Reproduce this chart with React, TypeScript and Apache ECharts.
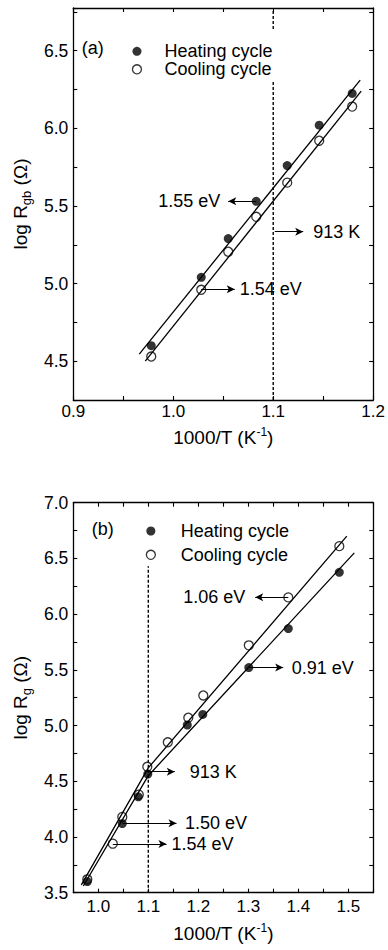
import React, { useEffect, useRef } from 'react';
import * as echarts from 'echarts';

const FONT = '"Liberation Sans", Arial, Helvetica, sans-serif';

// ---------- Panel (a): grain-boundary resistance ----------
const aX = [0.978, 1.028, 1.055, 1.083, 1.114, 1.146, 1.179];
const aHeatY = [4.6, 5.04, 5.29, 5.53, 5.76, 6.02, 6.225];
const aCoolY = [4.53, 4.96, 5.205, 5.43, 5.65, 5.92, 6.14];
const aHeatFitX = [0.966, 1.187];
const aHeatFitY = [4.545, 6.31];
const aCoolFitX = [0.972, 1.188];
const aCoolFitY = [4.5, 6.24];
const aTransitionX = 1.1;
const aDashLowY = [4.25, 6.31];
const aDashHighY = [6.64, 6.775];
const aXTicks = [0.9, 1.2];
const aYTicks = [4.25, 6.775];
const aArrowText = ['1.55 eV', '913 K', '1.54 eV'];
const aArrowFrom = [[1.083, 5.53], [1.1015, 5.334], [1.028, 4.963]];
const aArrowTo = [[1.055, 5.53], [1.13, 5.334], [1.0615, 4.963]];
const aArrowGap = [8, 10, 5];

// ---------- Panel (b): grain resistance ----------
const bHeatX = [0.978, 1.048, 1.08, 1.099, 1.178, 1.209, 1.301, 1.38, 1.482];
const bHeatY = [3.6, 4.12, 4.36, 4.565, 5.005, 5.1, 5.52, 5.87, 6.375];
const bCoolX = [0.978, 1.029, 1.048, 1.081, 1.098, 1.139, 1.18, 1.21, 1.301, 1.38, 1.482];
const bCoolY = [3.62, 3.94, 4.18, 4.38, 4.63, 4.85, 5.07, 5.27, 5.72, 6.15, 6.61];
const bHeatFitX = [0.97, 1.1, 1.512];
const bHeatFitY = [3.56, 4.55, 6.55];
const bCoolFitX = [0.966, 1.1, 1.497];
const bCoolFitY = [3.57, 4.62, 6.7];
const bTransitionX = 1.1;
const bDashY = [3.5, 6.43];
const bXTicks = [0.95, 1.55];
const bYTicks = [3.5, 7.0];
const bArrowText = ['1.06 eV', '0.91 eV', '913 K', '1.50 eV', '1.54 eV'];
const bArrowFrom = [[1.38, 6.151], [1.301, 5.52], [1.099, 4.586], [1.048, 4.123], [1.029, 3.937]];
const bArrowTo = [[1.3138, 6.151], [1.3698, 5.52], [1.153, 4.586], [1.1564, 4.123], [1.1364, 3.937]];
const bArrowGap = [10, 8.5, 15, 8.5, 5];

const SERIES_HEAT = 'Heating cycle';
const SERIES_COOL = 'Cooling cycle';

function pts(xs: number[], ys: number[]) {
  return xs.map((x, i) => [x, ys[i]]);
}

const xLab = (v: number) => (Math.abs(v * 10 - Math.round(v * 10)) < 1e-6 ? v.toFixed(1) : '');
const yLab = (v: number) => (Math.abs(v * 2 - Math.round(v * 2)) < 1e-6 ? v.toFixed(1) : '');

const axisLine = { show: true, onZero: false, lineStyle: { color: '#000', width: 1.3 } };
const axisTick = { show: true, inside: true, length: 4, lineStyle: { color: '#000', width: 1.1 } };

const xNameStyle = {
  fontSize: 19,
  fontFamily: FONT,
  color: '#000',
  lineHeight: 22,
  rich: { sup: { fontSize: 12, lineHeight: 12, verticalAlign: 'top', fontFamily: FONT, color: '#000' } },
};
const yNameStyle = {
  fontSize: 19,
  fontFamily: FONT,
  color: '#000',
  lineHeight: 24,
  rich: { sub: { fontSize: 13, lineHeight: 13, verticalAlign: 'bottom', fontFamily: FONT, color: '#000' } },
};

function xAxes(grid: number, ext: number[], gap: number, margin: number) {
  return [
    {
      gridIndex: grid, type: 'value', position: 'bottom', min: ext[0], max: ext[1], interval: 0.05,
      axisLine, axisTick, splitLine: { show: false },
      axisLabel: { formatter: xLab, margin, fontSize: 17, color: '#000', fontFamily: FONT, showMinLabel: true, showMaxLabel: true },
      name: '1000/T (K{sup|-1})', nameLocation: 'middle', nameGap: gap, nameTextStyle: xNameStyle,
    },
    {
      gridIndex: grid, type: 'value', position: 'top', min: ext[0], max: ext[1], interval: 0.05,
      axisLine, axisTick, splitLine: { show: false }, axisLabel: { show: false },
    },
  ];
}

function yAxes(grid: number, ext: number[], name: string) {
  return [
    {
      gridIndex: grid, type: 'value', position: 'left', min: ext[0], max: ext[1], interval: 0.25,
      axisLine, axisTick, splitLine: { show: false },
      axisLabel: { formatter: yLab, margin: 5, fontSize: 17.5, color: '#000', fontFamily: FONT, showMinLabel: true, showMaxLabel: true },
      name, nameLocation: 'middle', nameRotate: 90, nameGap: 40.8, nameTextStyle: yNameStyle,
    },
    {
      gridIndex: grid, type: 'value', position: 'right', min: ext[0], max: ext[1], interval: 0.25,
      axisLine, axisTick, splitLine: { show: false }, axisLabel: { show: false },
    },
  ];
}

function arrows(texts: string[], from: number[][], to: number[][], gaps: number[]) {
  return {
    silent: true,
    symbol: ['none', 'arrow'],
    symbolSize: [6, 8],
    lineStyle: { color: '#000', type: 'solid', width: 1 },
    label: { show: true, position: 'end', color: '#000', fontSize: 18, fontFamily: FONT },
    emphasis: { disabled: true },
    data: texts.map((t, i) => [
      { coord: from[i], name: t, label: { formatter: t, distance: gaps[i] } },
      { coord: to[i] },
    ]),
  };
}

function fitLine(name: string, xi: number, data: number[][]) {
  return {
    name, type: 'line', xAxisIndex: xi, yAxisIndex: xi, data, symbol: 'none', silent: true, z: 2,
    lineStyle: { color: '#000', width: 1.3 },
  };
}

function dashLine(name: string, xi: number, x: number, ys: number[]) {
  return {
    name, type: 'line', xAxisIndex: xi, yAxisIndex: xi, data: ys.map((y) => [x, y]), symbol: 'none', silent: true, z: 1,
    lineStyle: { color: '#000', width: 1.4, type: [3, 2] },
  };
}

function scatter(name: string, xi: number, data: number[][], filled: boolean, markLine?: any) {
  return {
    name, type: 'scatter', xAxisIndex: xi, yAxisIndex: xi, data, symbol: 'circle', symbolSize: 9, z: 4,
    itemStyle: filled
      ? { color: '#000', borderWidth: 0 }
      : { color: 'rgba(0,0,0,0)', borderColor: '#000', borderWidth: 1.3 },
    markLine,
  };
}

function legend(left: number, top: number, itemWidth: number, itemGap: number) {
  return {
    show: true, orient: 'vertical', left, top, padding: 0, itemWidth, itemHeight: 9, itemGap,
    selectedMode: false,
    textStyle: { fontSize: 18, fontFamily: FONT, color: '#000', lineHeight: 16 },
    data: [
      { name: SERIES_HEAT, icon: 'circle', itemStyle: { color: '#000', borderWidth: 0 } },
      { name: SERIES_COOL, icon: 'circle', itemStyle: { color: 'rgba(0,0,0,0)', borderColor: '#000', borderWidth: 1.3 } },
    ],
  };
}

function buildOption() {
  return {
    animation: false,
    textStyle: { fontFamily: FONT },
    grid: [
      { left: 73.3, top: 8, width: 300, height: 392 },
      { left: 73.3, top: 502.7, width: 300, height: 390 },
    ],
    xAxis: [...xAxes(0, aXTicks, 26, 3), ...xAxes(1, bXTicks, 29.3, 5)],
    yAxis: [...yAxes(0, aYTicks, 'log R{sub|gb} (Ω)'), ...yAxes(1, bYTicks, 'log R{sub|g} (Ω)')],
    legend: [legend(131.8, 42.3, 45, 0), legend(145.7, 522, 50, 5.8)],
    graphic: [
      { type: 'text', x: 81.7, y: 48, style: { text: '(a)', fontSize: 18, fontFamily: FONT, fill: '#000', align: 'left', verticalAlign: 'middle' } },
      { type: 'text', x: 91.7, y: 529.3, style: { text: '(b)', fontSize: 18, fontFamily: FONT, fill: '#000', align: 'left', verticalAlign: 'middle' } },
    ],
    series: [
      fitLine('a heating fit', 0, pts(aHeatFitX, aHeatFitY)),
      fitLine('a cooling fit', 0, pts(aCoolFitX, aCoolFitY)),
      dashLine('a 913 K', 0, aTransitionX, aDashLowY),
      dashLine('a 913 K top', 0, aTransitionX, aDashHighY),
      scatter(SERIES_HEAT, 0, pts(aX, aHeatY), true, arrows(aArrowText, aArrowFrom, aArrowTo, aArrowGap)),
      scatter(SERIES_COOL, 0, pts(aX, aCoolY), false),
      fitLine('b heating fit', 2, pts(bHeatFitX, bHeatFitY)),
      fitLine('b cooling fit', 2, pts(bCoolFitX, bCoolFitY)),
      dashLine('b 913 K', 2, bTransitionX, bDashY),
      scatter(SERIES_HEAT, 2, pts(bHeatX, bHeatY), true, arrows(bArrowText, bArrowFrom, bArrowTo, bArrowGap)),
      scatter(SERIES_COOL, 2, pts(bCoolX, bCoolY), false),
    ],
  };
}

export default function App() {
  const ref = useRef<HTMLDivElement>(null);
  useEffect(() => {
    document.body.style.margin = '0';
    const chart = echarts.init(ref.current as HTMLDivElement, null, { renderer: 'svg' });
    chart.setOption(buildOption() as any);
    return () => chart.dispose();
  }, []);
  return <div ref={ref} style={{ width: 388, height: 950 }} />;
}
